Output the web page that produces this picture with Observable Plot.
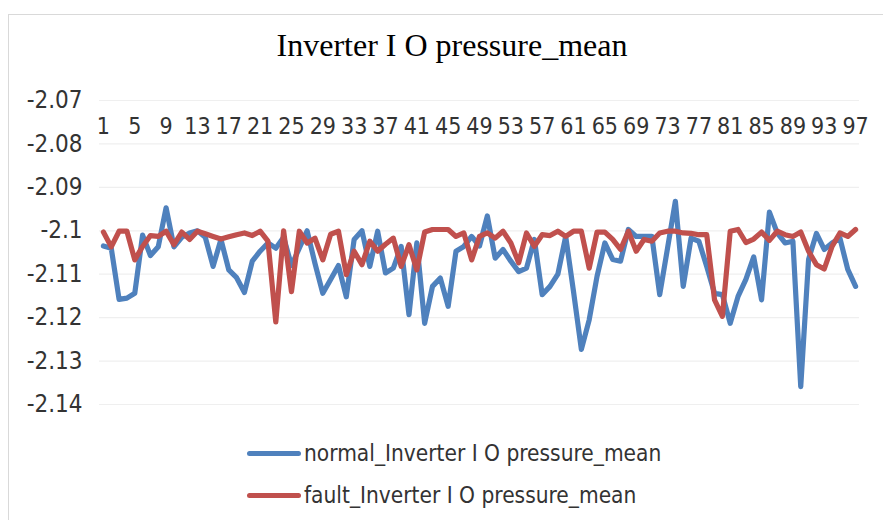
<!DOCTYPE html>
<html><head><meta charset="utf-8">
<script src="https://cdn.jsdelivr.net/npm/d3@7"></script>
<script src="https://cdn.jsdelivr.net/npm/@observablehq/plot@0.6"></script>
<style>
body{margin:0;background:#fff;}
#wrap{position:relative;width:883px;height:520px;overflow:hidden;}
#frame{position:absolute;left:8px;top:14px;width:900px;height:520px;border:1px solid #d9d9d9;box-sizing:border-box;}
#title{position:absolute;left:0;width:904px;top:27px;text-align:center;font-family:"Liberation Serif","Times New Roman",serif;font-size:32px;color:#000;white-space:nowrap;}
.leg{position:absolute;left:247px;height:30px;display:flex;align-items:center;font-family:"Liberation Sans Narrow","DejaVu Sans Condensed","Liberation Sans",sans-serif;font-size:22.5px;color:#333;white-space:nowrap;}
.sw{width:54px;height:5px;border-radius:3px;margin-right:3px;flex:none;}
#chart svg{position:absolute;left:0;top:0;}
</style></head>
<body>
<div id="wrap">
  <div id="frame"></div>
  <div id="chart"></div>
  <div id="title">Inverter I O pressure_mean</div>
  <div class="leg" style="top:438px"><div class="sw" style="background:#4f81bd"></div><span>normal_Inverter I O pressure_mean</span></div>
  <div class="leg" style="top:480px"><div class="sw" style="background:#c0504d"></div><span>fault_Inverter I O pressure_mean</span></div>
</div>
<script>
const categories = Array.from({length: 97}, (_, i) => i + 1);
const xTicks = [1,5,9,13,17,21,25,29,33,37,41,45,49,53,57,61,65,69,73,77,81,85,89,93,97];
const yTicks = [-2.07,-2.08,-2.09,-2.10,-2.11,-2.12,-2.13,-2.14];

const normal = [
-2.1035,-2.1040,-2.1158,-2.1155,-2.1144,-2.1010,-2.1057,-2.1037,-2.0947,-2.1037,
-2.1015,-2.1005,-2.1000,-2.1015,-2.1082,-2.1020,-2.1090,-2.1108,-2.1142,-2.1070,
-2.1047,-2.1028,-2.1040,-2.1015,-2.1080,-2.1040,-2.1000,-2.1075,-2.1144,-2.1112,
-2.1080,-2.1152,-2.1020,-2.1000,-2.1082,-2.1001,-2.1097,-2.1086,-2.1036,-2.1193,
-2.1028,-2.1213,-2.1128,-2.1109,-2.1174,-2.1047,-2.1036,-2.1013,-2.1035,-2.0966,
-2.1063,-2.1043,-2.1070,-2.1094,-2.1086,-2.1020,-2.1147,-2.1128,-2.1100,-2.1013,
-2.1140,-2.1273,-2.1205,-2.1105,-2.1028,-2.1066,-2.1070,-2.0997,-2.1013,-2.1013,
-2.1013,-2.1147,-2.1040,-2.0932,-2.1128,-2.1017,-2.1024,-2.1082,-2.1144,-2.1147,
-2.1213,-2.1151,-2.1112,-2.1060,-2.1159,-2.0957,-2.1005,-2.1028,-2.1024,-2.1359,
-2.1066,-2.1006,-2.1043,-2.1028,-2.1017,-2.1089,-2.1128
];
const fault = [
-2.1003,-2.1037,-2.1001,-2.1001,-2.1067,-2.1036,-2.1011,-2.1013,-2.1001,-2.1032,
-2.1003,-2.1020,-2.1001,-2.1007,-2.1013,-2.1019,-2.1014,-2.1009,-2.1005,-2.1011,
-2.1001,-2.1024,-2.1210,-2.1000,-2.1140,-2.1001,-2.1028,-2.1017,-2.1067,-2.1008,
-2.1001,-2.1101,-2.1047,-2.1078,-2.1024,-2.1047,-2.1031,-2.1017,-2.1082,-2.1032,
-2.1090,-2.1003,-2.0997,-2.0997,-2.0997,-2.1013,-2.1005,-2.1067,-2.1013,-2.1005,
-2.1017,-2.1001,-2.1028,-2.1074,-2.1005,-2.1036,-2.1009,-2.1011,-2.1001,-2.1013,
-2.1001,-2.1001,-2.1086,-2.1003,-2.1003,-2.1020,-2.1043,-2.1001,-2.1047,-2.1020,
-2.1024,-2.1005,-2.1001,-2.1001,-2.1005,-2.1006,-2.1009,-2.1009,-2.1159,-2.1197,
-2.1001,-2.0997,-2.1027,-2.1019,-2.1003,-2.1022,-2.1001,-2.1009,-2.1013,-2.1003,
-2.1047,-2.1078,-2.1088,-2.1036,-2.1005,-2.1013,-2.0997
];

const normalData = categories.map((c, i) => ({x: c, y: normal[i]}));
const faultData = categories.map((c, i) => ({x: c, y: fault[i]}));
const fmt = d => String(+d.toFixed(2));
const font = '"Liberation Sans Narrow","DejaVu Sans Condensed","Liberation Sans",sans-serif';

const plot = Plot.plot({
  width: 883,
  height: 520,
  marginLeft: 99,
  marginRight: 24,
  marginTop: 100,
  marginBottom: 116,
  style: {fontFamily: font, fontSize: "24px", color: "#333", background: "transparent", overflow: "visible"},
  x: {type: "linear", domain: [0.5, 97.5], axis: null},
  y: {domain: [-2.14, -2.07], axis: null},
  marks: [
    Plot.ruleY(yTicks, {stroke: "#efefef", strokeWidth: 1.2}),
    Plot.axisY({ticks: yTicks, tickSize: 0, tickPadding: 17, tickFormat: fmt, label: null, fill: "#333"}),
    Plot.text(xTicks, {x: d => d, y: () => -2.07, dy: 26, text: d => String(d), fill: "#333", fontSize: 23}),
    Plot.line(normalData, {x: "x", y: "y", stroke: "#4f81bd", strokeWidth: 5.2, strokeLinejoin: "round", strokeLinecap: "round"}),
    Plot.line(faultData, {x: "x", y: "y", stroke: "#c0504d", strokeWidth: 5.2, strokeLinejoin: "round", strokeLinecap: "round"})
  ]
});
document.getElementById("chart").appendChild(plot);
</script>
</body></html>
